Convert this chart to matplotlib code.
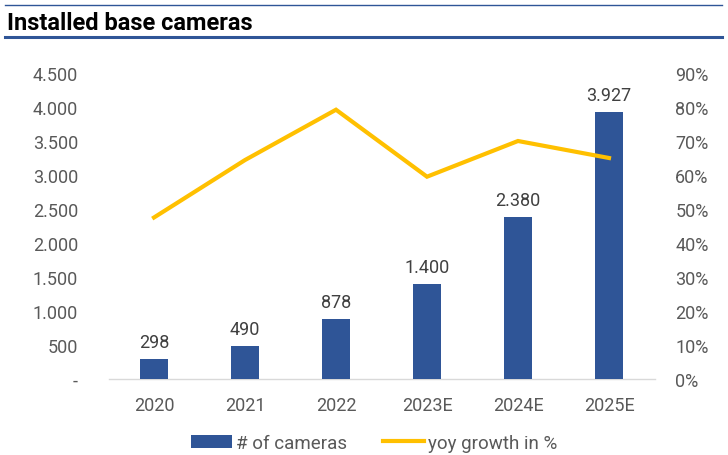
import matplotlib.pyplot as plt
import matplotlib.ticker as ticker
from matplotlib.lines import Line2D
from matplotlib.patches import Patch
import numpy as np

plt.rcParams['font.family'] = ['Roboto', 'DejaVu Sans']

years = ['2020', '2021', '2022', '2023E', '2024E', '2025E']
cameras = [298, 490, 878, 1400, 2380, 3927]
yoy_growth = [47.5, 64.4, 79.2, 59.5, 70.0, 65.0]
bar_labels = ['298', '490', '878', '1.400', '2.380', '3.927']

BAR_COLOR = '#2F5597'
LINE_COLOR = '#FFC000'
TICK_COLOR = '#595959'
HEADER_BLUE = '#2F5597'


def thousands(value, _pos):
    if value == 0:
        return '-'
    return f'{int(value):,}'.replace(',', '.')


fig = plt.figure(figsize=(7.28, 4.56), dpi=100)

# header rules and title
fig.add_artist(Line2D([5 / 728, 722 / 728], [1 - 6 / 456] * 2, color=HEADER_BLUE, lw=1.0))
fig.add_artist(Line2D([5 / 728, 722 / 728], [1 - 38 / 456] * 2, color=HEADER_BLUE, lw=2.2))
fig.text(7 / 728, 1 - 23 / 456, 'Installed base cameras', fontsize=17, fontweight='bold',
         va='center', ha='left', color='black')

ax = fig.add_axes([108.5 / 728, 76 / 456, 546 / 728, 306 / 456])
x = np.arange(len(years))
ax.bar(x, cameras, width=0.31, color=BAR_COLOR, zorder=3)
for xi, val, lab in zip(x, cameras, bar_labels):
    ax.text(xi, val + 120, lab, ha='center', va='bottom', fontsize=13, color='#404040')

ax.set_xlim(-0.5, 5.5)
ax.set_ylim(0, 4500)
ax.yaxis.set_major_locator(ticker.MultipleLocator(500))
ax.yaxis.set_major_formatter(ticker.FuncFormatter(thousands))
ax.set_xticks(x)
ax.set_xticklabels(years)
ax.tick_params(axis='both', length=0, labelsize=13, colors=TICK_COLOR)
ax.tick_params(axis='y', pad=22)
ax.tick_params(axis='x', pad=12)
for side in ['top', 'right', 'left']:
    ax.spines[side].set_visible(False)
ax.spines['bottom'].set_color('#D9D9D9')
ax.spines['bottom'].set_linewidth(1.0)

ax2 = ax.twinx()
ax2.plot(x, yoy_growth, color=LINE_COLOR, lw=3, solid_joinstyle='miter', zorder=4)
ax2.set_ylim(0, 90)
ax2.yaxis.set_major_locator(ticker.MultipleLocator(10))
ax2.yaxis.set_major_formatter(ticker.FuncFormatter(lambda v, _p: f'{int(round(v))}%'))
ax2.tick_params(axis='y', length=0, labelsize=13, colors=TICK_COLOR, pad=15)
for spine in ax2.spines.values():
    spine.set_visible(False)

handles = [Patch(facecolor=BAR_COLOR, label='# of cameras'),
           Line2D([0], [0], color=LINE_COLOR, lw=3, label='yoy growth in %')]
leg = fig.legend(handles=handles, loc='center', bbox_to_anchor=(374 / 728, 1 - 444 / 456),
                 ncol=2, frameon=False, fontsize=13.5, handlelength=2.2, handletextpad=0.2,
                 columnspacing=1.9, handleheight=0.7)
for t in leg.get_texts():
    t.set_color(TICK_COLOR)

fig.savefig('out.png', dpi=100)
